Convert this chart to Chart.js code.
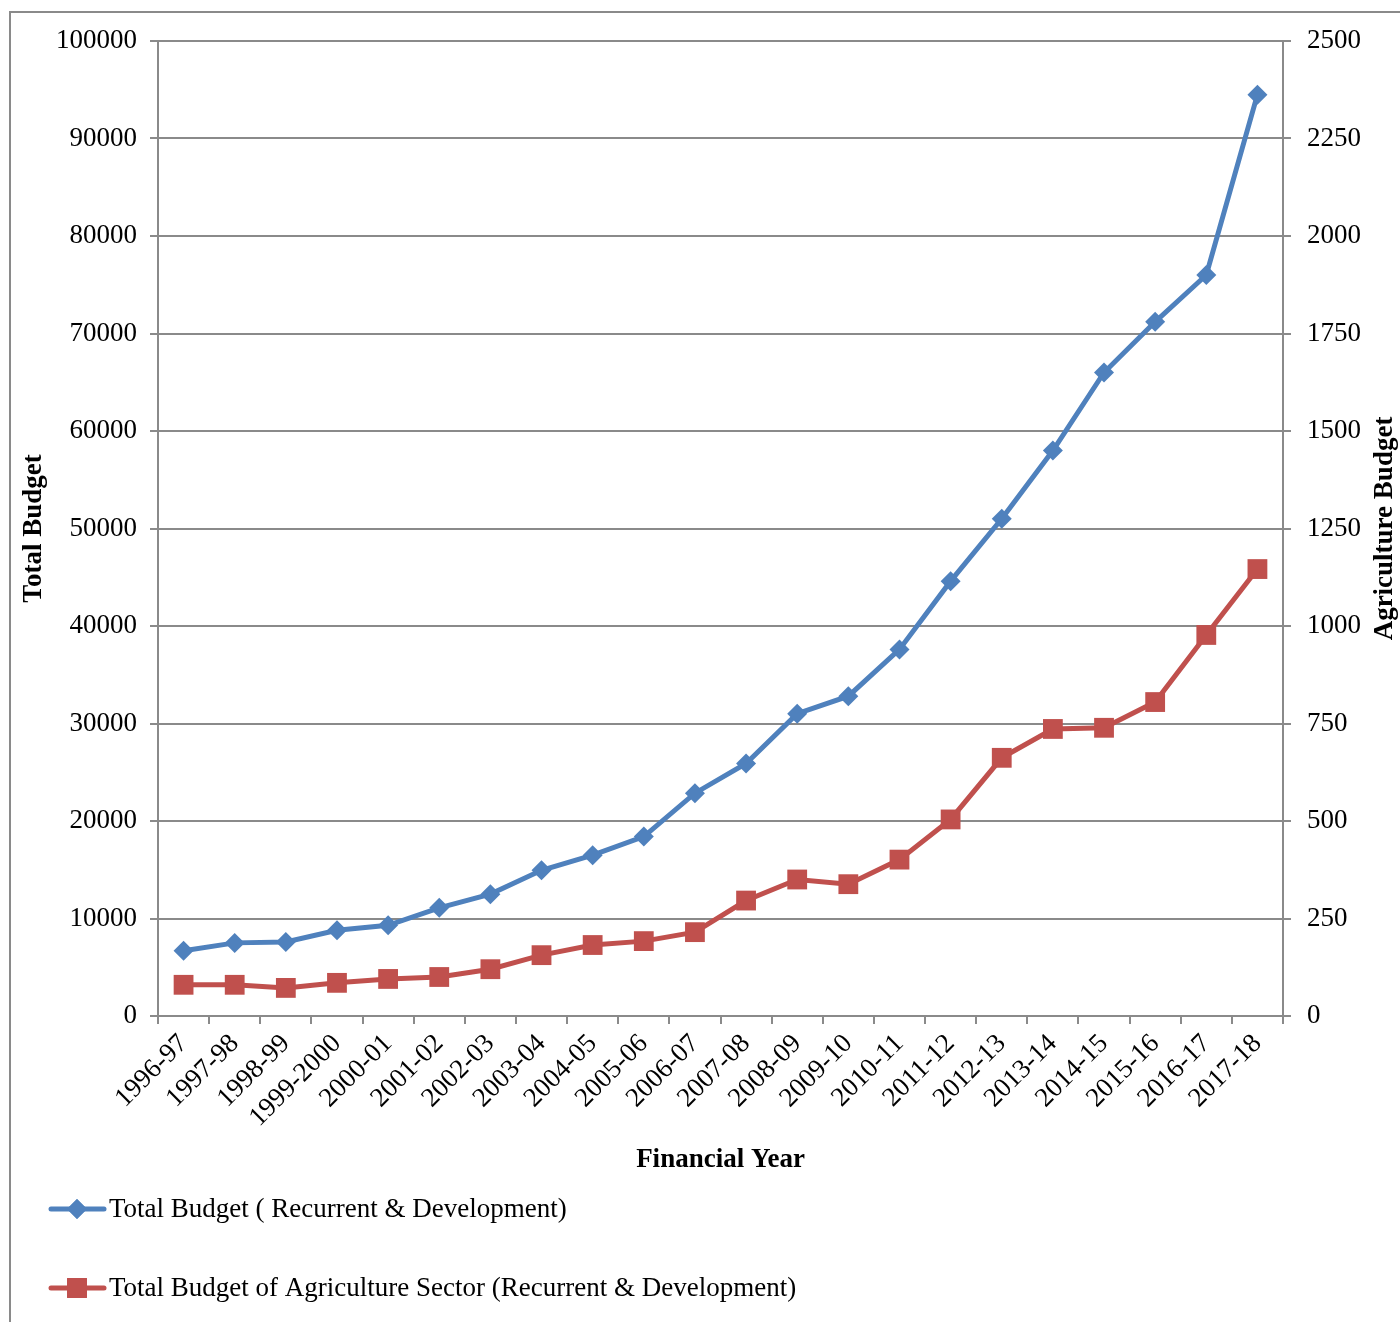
<!DOCTYPE html>
<html>
<head>
<meta charset="utf-8">
<script src="https://cdn.jsdelivr.net/npm/chart.js@4/dist/chart.umd.min.js"></script>
<style>
  html, body { margin: 0; padding: 0; background: #fff; }
  #wrap { position: relative; width: 1400px; height: 1322px; }
</style>
</head>
<body>
<div id="wrap"><canvas id="budget-chart" width="1400" height="1322"></canvas></div>
<script>
'use strict';

const YEARS = [
  '1996-97', '1997-98', '1998-99', '1999-2000', '2000-01', '2001-02', '2002-03', '2003-04',
  '2004-05', '2005-06', '2006-07', '2007-08', '2008-09', '2009-10', '2010-11', '2011-12',
  '2012-13', '2013-14', '2014-15', '2015-16', '2016-17', '2017-18',
];

const TOTAL_BUDGET = [
  6700, 7500, 7600, 8800, 9300, 11100, 12500, 14950, 16500, 18400, 22850,
  25900, 31000, 32800, 37600, 44600, 51000, 58000, 66000, 71200, 76000, 94500,
];

const AGRI_BUDGET = [
  80, 80, 72, 85, 95, 100, 120, 156, 182, 192, 215,
  296, 350, 338, 401, 504, 662, 736, 739, 805, 977, 1146,
];

const LEFT_TICKS  = { min: 0, max: 100000, step: 10000 };
const RIGHT_TICKS = { min: 0, max: 2500,   step: 250 };

const BLUE  = '#4F81BD';
const RED   = '#C0504D';
const GRID  = '#8a8a8a';
const FONT  = "'Liberation Serif', 'Times New Roman', serif";

const tickFont  = { family: FONT, size: 27 };
const titleFont = { family: FONT, size: 27, weight: 'bold' };

// outer frame, right-hand title (reads bottom to top) and stacked legend
const framePlugin = {
  id: 'frameLegend',
  afterDraw(chart) {
    const ctx = chart.ctx;
    ctx.save();
    ctx.strokeStyle = GRID;
    ctx.lineWidth = 2;
    ctx.beginPath();
    ctx.moveTo(10, 1322);
    ctx.lineTo(10, 12);
    ctx.lineTo(1400, 12);
    ctx.stroke();

    const area = chart.chartArea;
    ctx.save();
    ctx.translate(1385, (area.top + area.bottom) / 2);
    ctx.rotate(-Math.PI / 2);
    ctx.fillStyle = '#000';
    ctx.font = `bold 27px ${FONT}`;
    ctx.textAlign = 'center';
    ctx.textBaseline = 'middle';
    ctx.fillText('Agriculture Budget', 0, 0);
    ctx.restore();

    const rows = [1209, 1288];
    chart.data.datasets.forEach((ds, i) => {
      const y = rows[i];
      ctx.strokeStyle = ds.borderColor;
      ctx.lineWidth = 5;
      ctx.lineCap = 'round';
      ctx.beginPath();
      ctx.moveTo(51, y);
      ctx.lineTo(104, y);
      ctx.stroke();
      ctx.fillStyle = ds.borderColor;
      Chart.helpers.drawPoint(ctx, {
        pointStyle: ds.pointStyle,
        radius: ds.pointRadius,
        borderWidth: 0,
      }, 77, y);
      ctx.fill();
      ctx.fillStyle = '#000';
      ctx.font = `27px ${FONT}`;
      ctx.textBaseline = 'middle';
      ctx.textAlign = 'left';
      ctx.fillText(ds.label, 109, y + 1);
    });
    ctx.restore();
  },
};

new Chart(document.getElementById('budget-chart'), {
  type: 'line',
  data: {
    labels: YEARS,
    datasets: [
      {
        label: 'Total Budget ( Recurrent & Development)',
        data: TOTAL_BUDGET,
        yAxisID: 'y',
        borderColor: BLUE,
        backgroundColor: BLUE,
        borderWidth: 5,
        pointStyle: 'rectRot',
        pointRadius: 10,
        pointBorderWidth: 0,
        tension: 0,
      },
      {
        label: 'Total Budget of Agriculture Sector (Recurrent & Development)',
        data: AGRI_BUDGET,
        yAxisID: 'y1',
        borderColor: RED,
        backgroundColor: RED,
        borderWidth: 5,
        pointStyle: 'rect',
        pointRadius: 14,
        pointBorderWidth: 0,
        tension: 0,
      },
    ],
  },
  options: {
    responsive: false,
    animation: false,
    layout: { padding: { top: 41, left: 0, right: 0, bottom: 142 } },
    plugins: {
      legend:  { display: false },
      tooltip: { enabled: false },
    },
    scales: {
      x: {
        offset: true,
        grid: {
          offset: true,
          drawOnChartArea: false,
          drawTicks: true,
          tickLength: 8,
          color: GRID,
          lineWidth: 2,
        },
        border: { display: true, color: GRID, width: 2 },
        ticks: {
          color: '#000',
          font: tickFont,
          minRotation: 45,
          maxRotation: 45,
          padding: 4,
          autoSkip: false,
        },
        title: {
          display: true,
          text: 'Financial Year',
          color: '#000',
          font: titleFont,
          padding: { top: 4, bottom: 4 },
        },
        afterFit: s => { s.height = 164; },
      },
      y: {
        position: 'left',
        min: LEFT_TICKS.min,
        max: LEFT_TICKS.max,
        grid: { color: GRID, lineWidth: 2, tickLength: 8 },
        border: { display: true, color: GRID, width: 2 },
        ticks: {
          stepSize: LEFT_TICKS.step,
          color: '#000',
          font: tickFont,
          padding: 13,
          callback: v => String(v),
        },
        title: {
          display: true,
          text: 'Total Budget',
          color: '#000',
          font: titleFont,
          padding: { top: 18, bottom: 0 },
        },
        afterFit: s => { s.width = 158; },
      },
      y1: {
        position: 'right',
        min: RIGHT_TICKS.min,
        max: RIGHT_TICKS.max,
        grid: { drawOnChartArea: false, color: GRID, lineWidth: 2, tickLength: 8 },
        border: { display: true, color: GRID, width: 2 },
        ticks: {
          stepSize: RIGHT_TICKS.step,
          color: '#000',
          font: tickFont,
          padding: 16,
          callback: v => String(v),
        },
        afterFit: s => { s.width = 117; },
      },
    },
  },
  plugins: [framePlugin],
});
</script>
</body>
</html>
